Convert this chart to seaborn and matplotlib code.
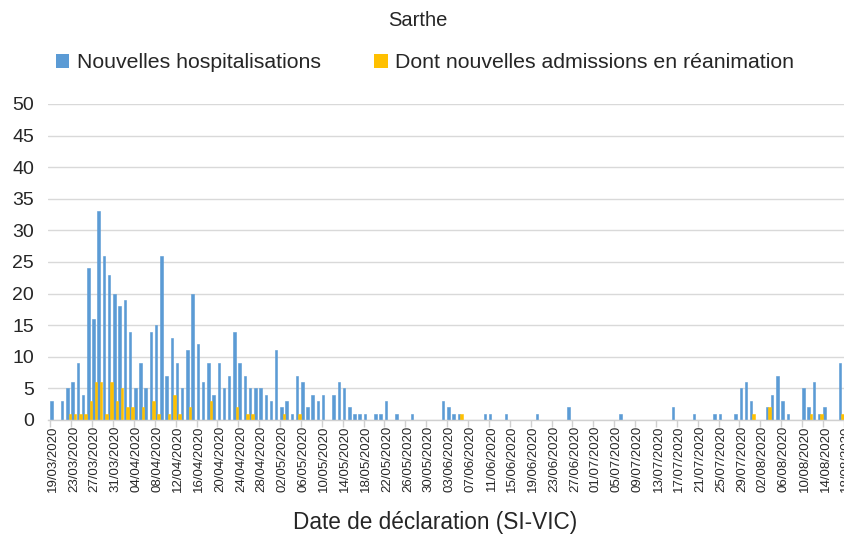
import numpy as np
import pandas as pd
import matplotlib
matplotlib.use('Agg')
import matplotlib.pyplot as plt
import seaborn as sns
from matplotlib.patches import Patch

# Données (une valeur par jour, du 19/03 au 18/08/2020)
dates = pd.date_range('2020-03-19', '2020-08-18', freq='D')
date_labels = list(dates.strftime('%d/%m/%Y'))

hospitalisations = [
    3, 0, 3, 5, 6, 9, 4, 24, 16, 33,      # 19/03 - 28/03
    26, 23, 20, 18, 19, 14, 5, 9, 5, 14,  # 29/03 - 07/04
    15, 26, 7, 13, 9, 5, 11, 20, 12, 6,   # 08/04 - 17/04
    9, 4, 9, 5, 7, 14, 9, 7, 5, 5,        # 18/04 - 27/04
    5, 4, 3, 11, 2, 3, 1, 7, 6, 2,        # 28/04 - 07/05
    4, 3, 4, 0, 4, 6, 5, 2, 1, 1,         # 08/05 - 17/05
    1, 0, 1, 1, 3, 0, 1, 0, 0, 1,         # 18/05 - 27/05
    0, 0, 0, 0, 0, 3, 2, 1, 1, 0,         # 28/05 - 06/06
    0, 0, 0, 1, 1, 0, 0, 1, 0, 0,         # 07/06 - 16/06
    0, 0, 0, 1, 0, 0, 0, 0, 0, 2,         # 17/06 - 26/06
    0, 0, 0, 0, 0, 0, 0, 0, 0, 1,         # 27/06 - 06/07
    0, 0, 0, 0, 0, 0, 0, 0, 0, 2,         # 07/07 - 16/07
    0, 0, 0, 1, 0, 0, 0, 1, 1, 0,         # 17/07 - 26/07
    0, 1, 5, 6, 3, 0, 0, 2, 4, 7,         # 27/07 - 05/08
    3, 1, 0, 0, 5, 2, 6, 1, 2, 0,         # 06/08 - 15/08
    0, 9, 3,                              # 16/08 - 18/08
]

reanimation = [
    0, 0, 0, 1, 1, 1, 1, 3, 6, 6,
    1, 6, 3, 5, 2, 2, 0, 2, 0, 3,
    1, 0, 1, 4, 1, 0, 2, 0, 0, 0,
    3, 0, 0, 0, 0, 2, 0, 1, 1, 0,
    0, 0, 0, 0, 1, 0, 0, 1, 0, 0,
    0, 0, 0, 0, 0, 0, 0, 0, 0, 0,
    0, 0, 0, 0, 0, 0, 0, 0, 0, 0,
    0, 0, 0, 0, 0, 0, 0, 0, 1, 0,
    0, 0, 0, 0, 0, 0, 0, 0, 0, 0,
    0, 0, 0, 0, 0, 0, 0, 0, 0, 0,
    0, 0, 0, 0, 0, 0, 0, 0, 0, 0,
    0, 0, 0, 0, 0, 0, 0, 0, 0, 0,
    0, 0, 0, 0, 0, 0, 0, 0, 0, 0,
    0, 0, 0, 0, 1, 0, 0, 2, 0, 0,
    0, 0, 0, 0, 0, 1, 0, 1, 0, 0,
    0, 1, 0,
]

series_names = ['Nouvelles hospitalisations', 'Dont nouvelles admissions en réanimation']
couleurs = ['#5b9bd5', '#ffc000']
y_ticks = list(range(0, 51, 5))

n = len(date_labels)
df = pd.DataFrame({
    'date': date_labels * 2,
    'serie': [series_names[0]] * n + [series_names[1]] * n,
    'valeur': hospitalisations + reanimation,
})

sns.set_theme(style='white')
plt.rcParams['font.family'] = ['Liberation Sans', 'DejaVu Sans']
texte = '#262626'

fig = plt.figure(figsize=(8.45, 5.37), dpi=100)
# axes qui dépasse à droite : le graphique d'origine est rogné
px_jour = 5.22
gauche, droite = 48, 880
ax = fig.add_axes([gauche / 845, 117 / 537, (droite - gauche) / 845, 316 / 537])

sns.barplot(data=df, x='date', y='valeur', hue='serie', order=date_labels,
            hue_order=series_names, palette=couleurs, saturation=1,
            width=0.96, errorbar=None, legend=False, ax=ax)
# contour de la même couleur pour des barres plus nettes
for p in ax.patches:
    p.set_edgecolor(p.get_facecolor())
    p.set_linewidth(0.4)

ax.set_xlim(-(53 - gauche) / px_jour, (droite - 53) / px_jour)
ax.set_ylim(0, 50)
ax.set_yticks(y_ticks)
ax.set_yticklabels([str(v) for v in y_ticks], fontsize=14, color=texte)
ax.yaxis.grid(True, color='#d9d9d9', linewidth=1)
ax.set_axisbelow(True)

pos = list(range(0, n, 4))
ax.set_xticks(pos)
ax.set_xticklabels([date_labels[i] for i in pos], rotation=90, fontsize=9.5, color=texte)
ax.set_xticks([p - 0.5 for p in pos], minor=True)
ax.tick_params(axis='x', which='major', length=0, pad=4)
ax.tick_params(axis='x', which='minor', length=5, width=1, color='#d0d0d0', bottom=True)
ax.tick_params(axis='y', length=0, pad=10)
ax.set_xlabel('')
ax.set_ylabel('')

for s in ['top', 'right', 'left']:
    ax.spines[s].set_visible(False)
ax.spines['bottom'].set_color('#d0d0d0')
ax.spines['bottom'].set_linewidth(1)

fig.text(418 / 845, 1 - 20 / 537, 'Sarthe', ha='center', va='center', fontsize=14.5, color=texte)
fig.text(435 / 845, 1 - 523 / 537, 'Date de déclaration (SI-VIC)', ha='center', va='center',
         fontsize=16.3, color=texte)

handles = [Patch(facecolor=c, edgecolor='none') for c in couleurs]
fig.legend(handles, series_names, loc='center', bbox_to_anchor=(425 / 845, 1 - 63 / 537),
           ncol=2, frameon=False, fontsize=15.3, handlelength=0.65, handleheight=0.65,
           handletextpad=0.35, columnspacing=2.5, labelcolor=texte)

fig.savefig('out.png', dpi=100)
